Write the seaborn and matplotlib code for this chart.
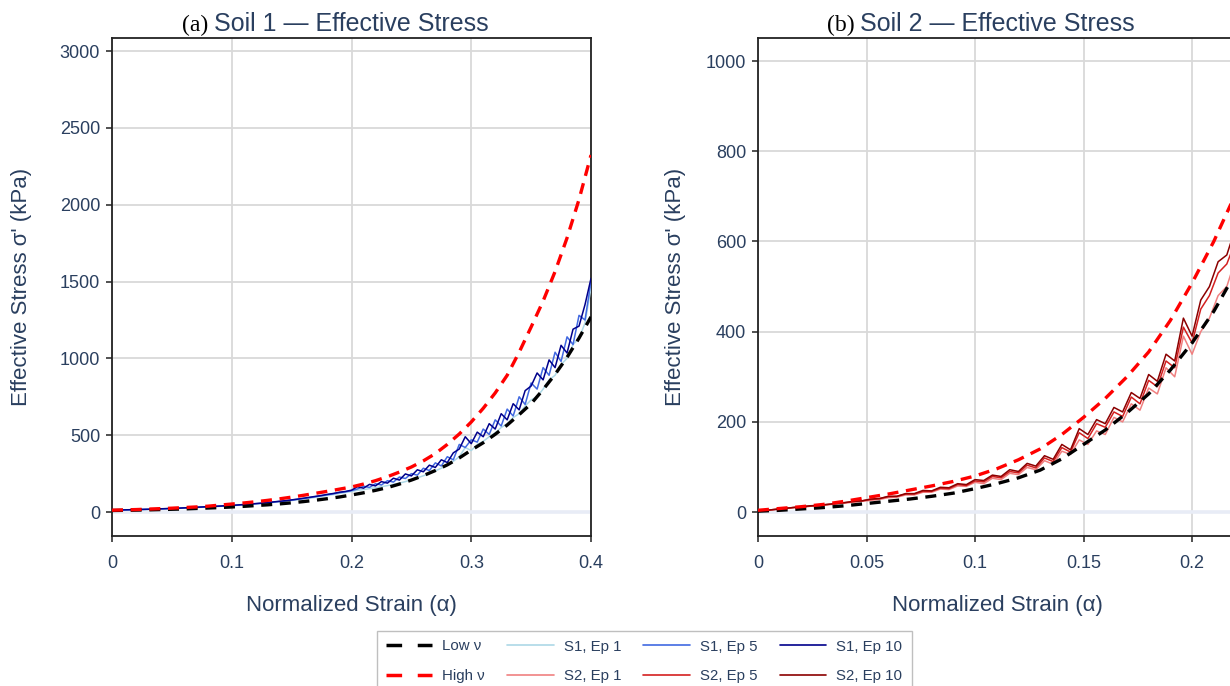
import numpy as np
import pandas as pd
import matplotlib
matplotlib.use("Agg")
import matplotlib.pyplot as plt
import seaborn as sns
from matplotlib.lines import Line2D

# --- data: soil 1 (x step 0.01 for bounds, 0.005 for training runs) ---
s1_x_bound = np.linspace(0, 0.4, 41)
s1_low = [10, 11, 12.5, 14, 16, 18, 20, 23, 26, 29,
          33, 37, 42, 47, 53, 60, 68, 77, 87, 98,
          111, 125, 141, 159, 182, 208, 237, 270, 307, 352,
          403, 451, 506, 566, 634, 705, 797, 896, 1007, 1132,
          1270]
s1_high = [12, 14, 16, 19, 22, 25, 29, 33, 38, 45,
           52, 59, 67, 76, 86, 97, 109, 122, 135, 149,
           163, 182, 204, 230, 260, 293, 333, 380, 440, 508,
           586, 675, 775, 890, 1040, 1204, 1373, 1565, 1784, 2034,
           2323]

s1_x_run = np.linspace(0, 0.4, 81)
s1_ep1 = [11, 12, 13, 14, 15, 16, 17, 18, 19, 21,
          22, 24, 25, 27, 29, 31, 33, 35, 37, 39,
          41, 44, 47, 50, 53, 56, 59, 63, 67, 71,
          75, 80, 85, 90, 96, 102, 108, 114, 121, 127,
          134,
          142, 146, 152, 158, 165, 172, 180, 188, 198, 210,
          222, 236, 250, 268, 285, 305, 330, 360, 420, 400,
          440, 460, 490, 515, 550, 575, 615, 640, 690, 730,
          750, 800, 860, 890, 960, 1000, 1090, 1130, 1230, 1460]
s1_ep5 = [12, 13, 14, 15, 16, 17, 18, 19, 20, 22,
          23, 25, 27, 28, 30, 32, 34, 36, 38, 40,
          42, 45, 48, 51, 54, 57, 61, 65, 69, 73,
          78, 83, 88, 94, 100, 106, 113, 119, 126, 132,
          139,
          150, 168, 160, 184, 176, 204, 195, 228, 218, 250,
          240, 285, 270, 320, 300, 360, 340, 440, 420, 470,
          455, 540, 505, 600, 560, 670, 625, 750, 700, 840,
          800, 940, 890, 1040, 980, 1140, 1090, 1280, 1250, 1500]
s1_ep10 = [12, 13, 14, 15, 16, 17, 18, 19, 21, 22,
           24, 25, 27, 29, 31, 33, 35, 37, 39, 41,
           43, 46, 49, 52, 55, 58, 62, 66, 70, 74,
           79, 84, 90, 96, 102, 108, 115, 121, 129, 134,
           142,
           165, 155, 180, 170, 198, 188, 220, 208, 248, 235,
           275, 262, 305, 290, 340, 322, 385, 410, 490, 445,
           520, 490, 575, 540, 640, 600, 705, 665, 790, 820,
           905, 860, 990, 940, 1085, 1035, 1190, 1210, 1350, 1520]

# --- data: soil 2 ---
s2_x_bound = np.linspace(0, 0.22, 23)
s2_low = [2, 4, 7, 10, 14, 19, 24, 29, 35, 42,
          52, 63, 76, 93, 118, 150, 182, 220, 262, 315,
          375, 445, 530]
s2_high = [4, 8, 12, 17, 24, 32, 40, 49, 58, 68,
           80, 96, 116, 140, 172, 210, 252, 300, 355, 425,
           508, 600, 705]

s2_x_run = np.linspace(0, 0.22, 56)
s2_ep1 = [2, 4, 6, 8, 10, 11, 13, 15, 16, 18,
          20, 22, 24, 26, 28, 32, 33, 38, 38, 44,
          44, 51, 50, 58, 57, 66, 63, 75, 72, 86,
          83, 99, 94, 114, 106, 135, 128, 160, 150, 180,
          172, 210, 200, 240, 226, 275, 262, 320, 300, 390,
          350, 400, 430, 480, 500, 560]
s2_ep5 = [2, 4, 6, 8, 10, 12, 13, 15, 17, 19,
          21, 23, 25, 28, 30, 34, 35, 40, 40, 46,
          46, 53, 52, 61, 59, 69, 67, 79, 76, 90,
          87, 104, 98, 120, 112, 143, 133, 176, 163, 196,
          188, 222, 212, 255, 240, 292, 278, 335, 320, 410,
          375, 450, 480, 530, 550, 600]
s2_ep10 = [2, 4, 6, 8, 10, 12, 14, 15, 17, 19,
           21, 24, 25, 29, 30, 35, 35, 41, 41, 48,
           47, 55, 54, 63, 61, 72, 70, 82, 79, 94,
           90, 108, 102, 125, 117, 150, 138, 185, 172, 205,
           196, 232, 222, 265, 252, 305, 290, 350, 335, 430,
           390, 470, 500, 555, 570, 630]

TXT = "#2a3f5f"
S1_COLORS = ["#add8e6", "#4169e1", "#00008b"]
S2_COLORS = ["#f08080", "#d42020", "#8b0000"]
DASH = (0, (3.3, 2.3))

sns.set_theme(style="whitegrid")
plt.rcParams['font.family'] = ['Liberation Sans', 'DejaVu Sans']
plt.rcParams['axes.unicode_minus'] = False

fig = plt.figure(figsize=(12.3, 6.86), dpi=100)
W, H = 1230, 686
ax1 = fig.add_axes([112 / W, 1 - 536 / H, 479 / W, 498 / H])
ax2 = fig.add_axes([758 / W, 1 - 536 / H, 479 / W, 498 / H])


def draw_panel(ax, xb, low, high, xr, runs, colors):
    ax.axhline(0, color="#e8ecf6", lw=2.6, zorder=1)
    for vals, c in zip(runs, colors):
        sns.lineplot(x=xr, y=vals, ax=ax, color=c, lw=1.1, zorder=3)
    sns.lineplot(x=xb, y=low, ax=ax, color="black", lw=2.4, linestyle=DASH, zorder=4)
    sns.lineplot(x=xb, y=high, ax=ax, color="red", lw=2.4, linestyle=DASH, zorder=4)


draw_panel(ax1, s1_x_bound, s1_low, s1_high, s1_x_run,
           [s1_ep1, s1_ep5, s1_ep10], S1_COLORS)
draw_panel(ax2, s2_x_bound, s2_low, s2_high, s2_x_run,
           [s2_ep1, s2_ep5, s2_ep10], S2_COLORS)

ax1.set_xlim(0, 0.4)
ax1.set_ylim(-156, 3085)
ax1.set_xticks([0, 0.1, 0.2, 0.3, 0.4])
ax1.set_xticklabels(["0", "0.1", "0.2", "0.3", "0.4"])
ax1.set_yticks([0, 500, 1000, 1500, 2000, 2500, 3000])

ax2.set_xlim(0, 0.2207)
ax2.set_ylim(-53, 1051)
ax2.set_xticks([0, 0.05, 0.1, 0.15, 0.2])
ax2.set_xticklabels(["0", "0.05", "0.1", "0.15", "0.2"])
ax2.set_yticks([0, 200, 400, 600, 800, 1000])

for ax, ylab_x in ((ax1, -0.167), (ax2, -0.15)):
    ax.set_facecolor("white")
    ax.grid(True, color="#d9d9d9", lw=1.3)
    ax.set_axisbelow(True)
    for sp in ax.spines.values():
        sp.set_color("#222222")
        sp.set_linewidth(1.3)
    ax.tick_params(axis="both", which="major", direction="out", length=4.5, width=1.2,
                   color="#333333", labelcolor=TXT, labelsize=13,
                   bottom=True, left=True)
    ax.tick_params(axis="x", pad=9)
    ax.tick_params(axis="y", pad=4)
    ax.set_xlabel("Normalized Strain (α)", fontsize=16, color=TXT)
    ax.set_ylabel("Effective Stress σ' (kPa)", fontsize=16, color=TXT)
    ax.xaxis.set_label_coords(0.5, -0.118)
    ax.yaxis.set_label_coords(ylab_x, 0.5)

# titles: sans heading centred on the axes, serif panel letter to its left
heads = []
for ax, letter, head in [(ax1, "(a)", "Soil 1 — Effective Stress"),
                         (ax2, "(b)", "Soil 2 — Effective Stress")]:
    bb = ax.get_position()
    t = fig.text((bb.x0 + bb.x1) / 2, 1 - 31 / H, head, fontsize=18, color=TXT,
                 ha="center", va="baseline")
    heads.append((t, letter))

fig.canvas.draw()
for t, letter in heads:
    ext = t.get_window_extent()
    fig.text((ext.x0 - 6) / W, 1 - 31 / H, letter, fontsize=17,
             family="Liberation Serif", color="black", ha="right", va="baseline")

handles = [
    Line2D([], [], color="black", lw=2.5, linestyle=(0, (4.5, 4.5))),
    Line2D([], [], color="red", lw=2.5, linestyle=(0, (4.5, 4.5))),
    Line2D([], [], color=S1_COLORS[0], lw=1.2),
    Line2D([], [], color=S2_COLORS[0], lw=1.2),
    Line2D([], [], color=S1_COLORS[1], lw=1.2),
    Line2D([], [], color=S2_COLORS[1], lw=1.2),
    Line2D([], [], color=S1_COLORS[2], lw=1.2),
    Line2D([], [], color=S2_COLORS[2], lw=1.2),
]
labels = ["Low ν", "High ν", "S1, Ep 1", "S2, Ep 1",
          "S1, Ep 5", "S2, Ep 5", "S1, Ep 10", "S2, Ep 10"]
leg = fig.legend(handles, labels, ncol=4, loc="upper center",
                 bbox_to_anchor=(644 / W, 1 - 623 / H), frameon=True,
                 fancybox=False, edgecolor="#b0b0b0", fontsize=10.8,
                 handlelength=3.1, handletextpad=0.7, columnspacing=1.45,
                 labelspacing=1.05, borderpad=0.6, labelcolor=TXT)
leg.get_frame().set_linewidth(1.0)

fig.savefig("out.png", dpi=100)
